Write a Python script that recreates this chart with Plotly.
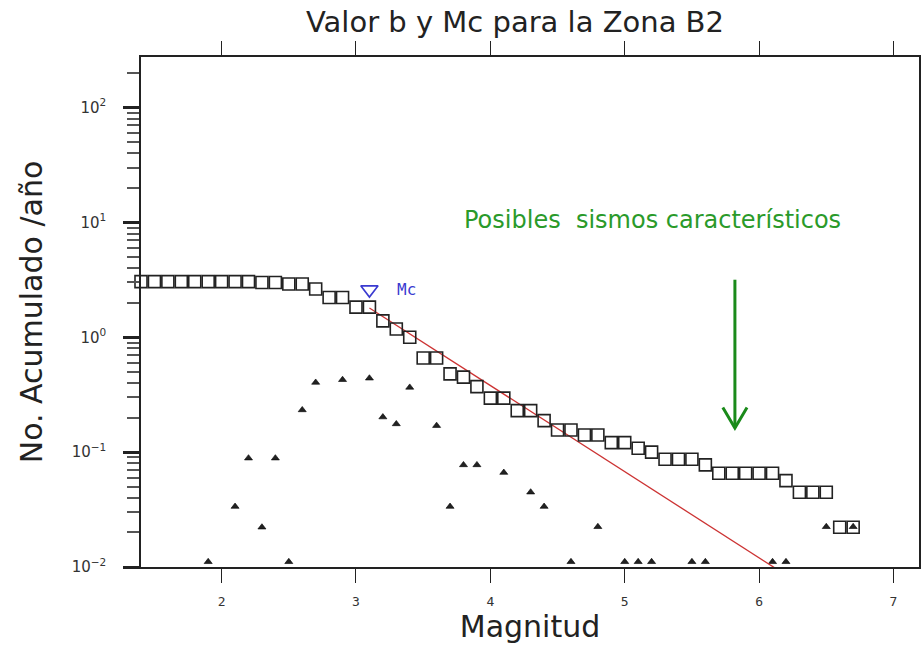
import plotly.graph_objects as go
import numpy as np

# Magnitude bins
mag_cum = [1.4, 1.5, 1.6, 1.7, 1.8, 1.9, 2.0, 2.1, 2.2, 2.3, 2.4, 2.5, 2.6, 2.7, 2.8, 2.9,
           3.0, 3.1, 3.2, 3.3, 3.4, 3.5, 3.6, 3.7, 3.8, 3.9, 4.0, 4.1, 4.2, 4.3, 4.4, 4.5,
           4.6, 4.7, 4.8, 4.9, 5.0, 5.1, 5.2, 5.3, 5.4, 5.5, 5.6, 5.7, 5.8, 5.9, 6.0, 6.1,
           6.2, 6.3, 6.4, 6.5, 6.6, 6.7]
# Cumulative annual number
n_cum = [3.05, 3.05, 3.05, 3.05, 3.05, 3.05, 3.05, 3.05, 3.05, 3.00, 3.00, 2.91, 2.91, 2.63, 2.22, 2.22,
         1.83, 1.83, 1.39, 1.18, 1.00, 0.66, 0.66, 0.48, 0.45, 0.372, 0.295, 0.295, 0.230, 0.230, 0.188, 0.156,
         0.156, 0.141, 0.141, 0.121, 0.121, 0.108, 0.100, 0.0867, 0.0867, 0.0867, 0.0774, 0.0654, 0.0654, 0.0654, 0.0654, 0.0654,
         0.0565, 0.0448, 0.0448, 0.0448, 0.0222, 0.0222]

# Non-cumulative annual number
mag_inc = [1.9, 2.1, 2.2, 2.3, 2.4, 2.5, 2.6, 2.7, 2.9, 3.1, 3.2, 3.3, 3.4, 3.6, 3.7, 3.8, 3.9,
           4.1, 4.3, 4.4, 4.6, 4.8, 5.0, 5.1, 5.2, 5.5, 5.6, 6.1, 6.2, 6.5, 6.7]
n_inc = [0.0111, 0.0336, 0.0886, 0.0222, 0.0886, 0.0111, 0.233, 0.404, 0.427, 0.44, 0.202, 0.176, 0.366,
         0.170, 0.0336, 0.0774, 0.0774, 0.0664, 0.0448, 0.0336, 0.0111, 0.0224, 0.0111, 0.0111, 0.0111,
         0.0111, 0.0111, 0.0111, 0.0111, 0.0224, 0.0224]

# Gutenberg-Richter fit
mc_value = 3.1
mc_marker_n = 2.6
a_value = 2.58
b_value = 0.75
fit_mag = [3.1, 6.3]

# Axis ticks
x_ticks = [2, 3, 4, 5, 6, 7]
y_tickvals = [0.01, 0.1, 1, 10, 100]
y_ticktext = ["10<sup>−2</sup>", "10<sup>−1</sup>", "10<sup>0</sup>", "10<sup>1</sup>", "10<sup>2</sup>"]
minor_decades = [0.01, 0.1, 1, 10, 100]
minor_digits = [2, 3, 4, 5, 6, 7, 8, 9]
y_minor = [d * k for d in minor_decades for k in minor_digits]

# Annotation arrow (Magnitud, No./año)
arrow_x = 5.82
arrow_top = 3.17
arrow_tip = 0.162
arrow_arm_dx = 0.09
arrow_arm_n = 0.245

fit_n = [10 ** (a_value - b_value * m) for m in fit_mag]

fig = go.Figure()

fig.add_trace(go.Scatter(
    x=mag_inc, y=n_inc, mode="markers",
    marker=dict(symbol="triangle-up", size=7, color="#222222",
                line=dict(width=0.6, color="#000000")),
    cliponaxis=False, showlegend=False))

fig.add_trace(go.Scatter(
    x=fit_mag, y=fit_n, mode="lines",
    line=dict(color="#cc3333", width=1.3), showlegend=False))

fig.add_trace(go.Scatter(
    x=mag_cum, y=n_cum, mode="markers",
    marker=dict(symbol="square-open", size=12, color="#222222",
                line=dict(width=1.6)),
    cliponaxis=False, showlegend=False))

fig.add_trace(go.Scatter(
    x=[mc_value], y=[mc_marker_n], mode="markers",
    marker=dict(symbol="triangle-down-open", size=15, color="#3a3ad0",
                line=dict(width=1.6)),
    showlegend=False))

fig.add_annotation(
    x=3.29, y=np.log10(mc_marker_n), xref="x", yref="y", xanchor="left",
    text="Mc", showarrow=False,
    font=dict(family="DejaVu Sans Mono", size=16, color="#3a3ad0"))

# green arrow
fig.add_trace(go.Scatter(
    x=[arrow_x, arrow_x, None, arrow_x - arrow_arm_dx, arrow_x, arrow_x + arrow_arm_dx],
    y=[arrow_top, arrow_tip, None, arrow_arm_n, arrow_tip, arrow_arm_n],
    mode="lines", line=dict(color="#1a8a1a", width=3), showlegend=False))

fig.add_annotation(
    x=5.21, y=np.log10(10.6), xref="x", yref="y",
    text="Posibles  sismos característicos", showarrow=False,
    font=dict(family="DejaVu Sans", size=24, color="#2a9a2a"))

fig.update_layout(
    width=924, height=646,
    margin=dict(l=141, r=3, t=57, b=79),
    paper_bgcolor="white", plot_bgcolor="white",
    title=dict(text="Valor b y Mc para la Zona B2", x=515 / 924, xanchor="center",
               y=0.966, yanchor="middle",
               font=dict(family="DejaVu Sans", size=29, color="#222222")),
    xaxis=dict(range=[1.4, 7.19], tickvals=x_ticks, showgrid=False, zeroline=False,
               showline=True, linecolor="#222222", linewidth=1.5, mirror="ticks",
               ticks="outside", ticklen=14, tickwidth=1, tickcolor="#222222",
               ticklabelstandoff=8,
               tickfont=dict(family="DejaVu Sans Mono", size=13, color="#333333"),
               title=dict(text="Magnitud", standoff=4,
                          font=dict(family="DejaVu Sans", size=30, color="#222222"))),
    yaxis=dict(type="log", range=[-2, 2.44], tickvals=y_tickvals, ticktext=y_ticktext,
               showgrid=False, zeroline=False,
               showline=True, linecolor="#222222", linewidth=1.5, mirror=True,
               ticks="outside", ticklen=16, tickwidth=2.5, tickcolor="#222222",
               ticklabelstandoff=14,
               minor=dict(tickvals=y_minor, ticks="outside", ticklen=12, tickwidth=2,
                          tickcolor="#555555", showgrid=False),
               tickfont=dict(family="DejaVu Sans", size=15, color="#333333"),
               title=dict(text="No. Acumulado /año", standoff=20,
                          font=dict(family="DejaVu Sans", size=30, color="#222222"))),
)

fig.write_html("out.html")
